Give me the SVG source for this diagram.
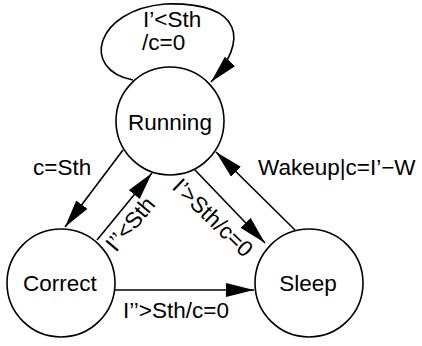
<svg xmlns="http://www.w3.org/2000/svg" width="422" height="346" viewBox="0 0 422 346">
<style>
.node{fill:#fff;stroke:#000;stroke-width:1.6}
.edge{fill:none;stroke:#000;stroke-width:1.6;marker-end:url(#arr)}
text{font-family:"Liberation Sans",Arial,sans-serif;font-size:22.5px;fill:#000}
.c{text-anchor:middle}
</style>
<defs>
<marker id="arr" markerUnits="userSpaceOnUse" markerWidth="29" markerHeight="15" refX="28" refY="7" orient="auto">
<path d="M0,0 L28,7 L0,14 z" fill="#000"/>
</marker>
</defs>
<rect width="422" height="346" fill="#fff"/>
<g id="connectors">
<path class="edge" d="M133,80 C80,70 95,10 165,4 C245,2 248,42 211,82"/>
<path class="edge" d="M123,150 L65,227"/>
<path class="edge" d="M97,240 L152,173"/>
<path class="edge" d="M195,170 L265,243"/>
<path class="edge" d="M295,230 L216,152"/>
<path class="edge" d="M115,290 L254,290"/>
</g>
<g id="labels">
<text x="143" y="27">I’&lt;Sth</text>
<text x="142" y="50">/c=0</text>
<text x="33" y="175">c=Sth</text>
<text x="258" y="175">Wakeup|c=I’−W</text>
<text transform="translate(116,253) rotate(-50)">I’’&lt;Sth</text>
<text transform="translate(171,188) rotate(44)">I’&gt;Sth/c=0</text>
<text x="123" y="318">I’’&gt;Sth/c=0</text>
</g>
<g id="running">
<circle class="node" cx="170" cy="121" r="54"/>
<text class="c" x="170" y="130">Running</text>
</g>
<g id="correct">
<circle class="node" cx="61" cy="283" r="54"/>
<text class="c" x="60" y="291">Correct</text>
</g>
<g id="sleep">
<circle class="node" cx="309" cy="283" r="54"/>
<text class="c" x="308" y="291">Sleep</text>
</g>
</svg>
